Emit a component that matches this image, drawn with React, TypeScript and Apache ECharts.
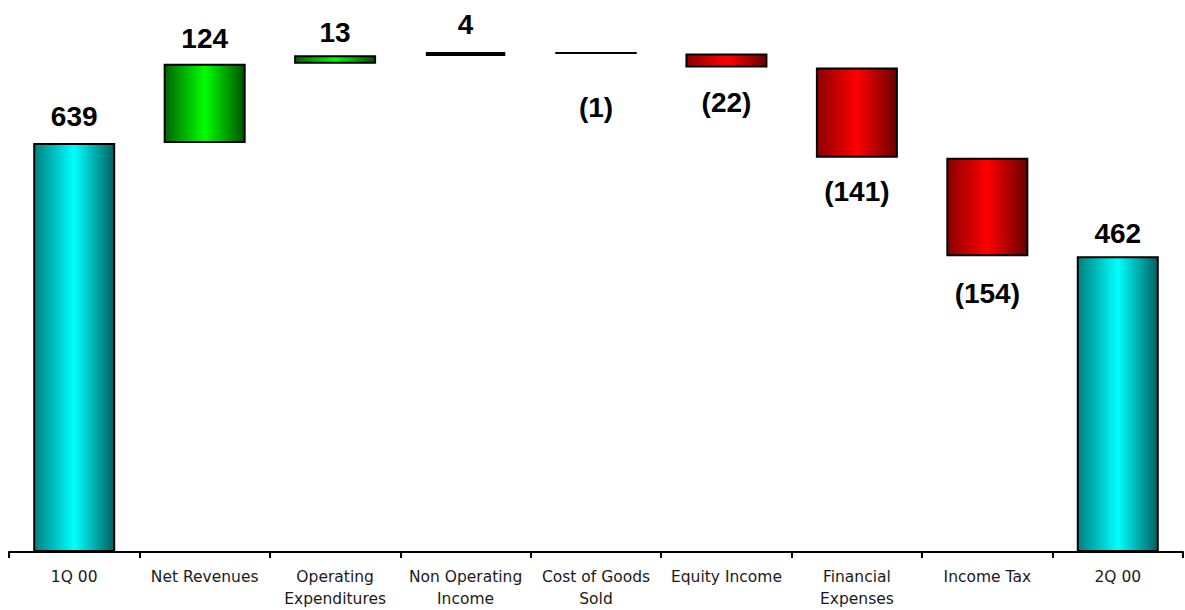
import React, { useEffect, useRef } from "react";
import * as echarts from "echarts";

const categories = [
  "1Q 00",
  "Net Revenues",
  "Operating\nExpenditures",
  "Non Operating\nIncome",
  "Cost of Goods\nSold",
  "Equity Income",
  "Financial\nExpenses",
  "Income Tax",
  "2Q 00",
];
// kind: total = full bar from 0; delta = floating change
const kinds = ["total", "delta", "delta", "delta", "delta", "delta", "delta", "delta", "total"];
const values = [639, 124, 13, 4, -1, -22, -141, -154, 462];
const labelTexts = ["639", "124", "13", "4", "(1)", "(22)", "(141)", "(154)", "462"];
const labelDistances = [13, 11, 9, 14, 39, 21, 20, 23, 9];

function grad(edge: string, center: string, edgeR: string) {
  return new echarts.graphic.LinearGradient(0, 0, 1, 0, [
    { offset: 0, color: edge },
    { offset: 0.5, color: center },
    { offset: 1, color: edgeR },
  ]);
}

export default function App() {
  const ref = useRef<HTMLDivElement>(null);
  useEffect(() => {
    if (!ref.current) return;
    const chart = echarts.init(ref.current, undefined, { renderer: "svg" });

    let running = 0;
    const base: number[] = [];
    const bars: any[] = [];
    values.forEach((v, i) => {
      let lo: number, h: number;
      if (kinds[i] === "total") {
        lo = 0;
        h = v;
        running = v;
      } else {
        const end = running + v;
        lo = Math.min(running, end);
        h = Math.abs(v);
        running = end;
      }
      base.push(lo);
      let color: any;
      let bw = 2;
      if (kinds[i] === "total") color = grad("#008080", "#00ffff", "#006060");
      else if (v === 4) {
        color = "#000000";
        bw = 4;
      } else if (v > 0) color = grad("#006400", "#00ff00", "#005000");
      else color = grad("#8a0000", "#ff0000", "#6a0000");
      bars.push({
        value: h,
        itemStyle: { color, borderWidth: bw },
        label: {
          show: true,
          position: v >= 0 ? "top" : "bottom",
          distance: labelDistances[i],
          formatter: labelTexts[i],
        },
      });
    });

    chart.setOption({
      animation: false,
      grid: { left: 9, right: 2, top: 40, bottom: 58, containLabel: false },
      xAxis: {
        type: "category",
        data: categories,
        axisLine: { lineStyle: { color: "#000", width: 2 } },
        axisTick: { show: true, inside: false, length: 6, lineStyle: { color: "#000", width: 2 } },
        axisLabel: {
          color: "#1a1a1a",
          fontFamily: "DejaVu Sans",
          fontSize: 15.5,
          lineHeight: 22,
          margin: 14,
          interval: 0,
        },
      },
      yAxis: {
        type: "value",
        min: 0,
        max: 800,
        show: false,
        splitLine: { show: false },
      },
      series: [
        {
          type: "bar",
          stack: "w",
          data: base,
          itemStyle: { color: "transparent", borderWidth: 0 },
          barWidth: 82,
          silent: true,
        },
        {
          type: "bar",
          stack: "w",
          data: bars,
          barWidth: 82,
          itemStyle: { borderColor: "#000", borderWidth: 2 },
          label: {
            color: "#000",
            fontFamily: "Liberation Sans",
            fontWeight: "bold",
            fontSize: 28,
          },
        },
      ],
    });
    return () => chart.dispose();
  }, []);
  return (
    <div
      ref={ref}
      style={{ position: "fixed", left: 0, top: 0, width: 1185, height: 610, background: "#fff" }}
    />
  );
}
